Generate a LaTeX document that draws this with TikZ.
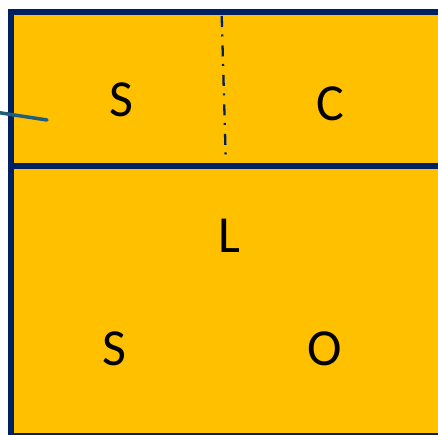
\documentclass[tikz,border=0pt]{standalone}
\usepackage{fontspec}
\setmainfont{Carlito}
\definecolor{gold}{HTML}{FFC000}
\definecolor{navy}{HTML}{002060}
\definecolor{tealline}{HTML}{215E7C}
\begin{document}
\begin{tikzpicture}[x=1pt,y=-1pt,
  frameline/.style={draw=navy,line width=6pt},
  letter/.style={inner sep=0pt,font=\fontsize{52}{52}\selectfont,text=black},
  divider/.style={draw=navy,line width=2.3pt,dash pattern=on 11pt off 7.5pt on 2pt off 9pt}]
  \useasboundingbox (0,0) rectangle (438,435);
  % yellow panel
  \fill[gold] (14,14) rectangle (438,433);
  % frame: left edge, top edge, middle rule, bottom edge
  \draw[frameline] (11,9) -- (11,435);
  \draw[frameline,line width=5.5pt] (8,11.8) -- (438,11.8);
  \draw[frameline,line width=6.5pt] (14,166) -- (438,166);
  \draw[draw=navy,line width=2pt] (14,434) -- (438,434);
  % dash-dot split of the upper band
  \coordinate (splitTop) at (221.7,16);
  \coordinate (splitBot) at (225.7,157);
  \draw[divider] (splitTop) -- (splitBot);
  % pointer entering from the left
  \coordinate (ptrA) at (-2,112.5);
  \coordinate (ptrB) at (47,120);
  \draw[tealline,line width=3.5pt,line cap=round] (ptrA) -- (ptrB);
  % labels
  \node[letter] (s1) at (121.7,100) {S};
  \node[letter] (c)  at (330.5,104) {C};
  \node[letter] (l)  at (229,236) {L};
  \node[letter] (s2) at (114,349) {S};
  \node[letter] (o)  at (324.5,349) {O};
\end{tikzpicture}
\end{document}
